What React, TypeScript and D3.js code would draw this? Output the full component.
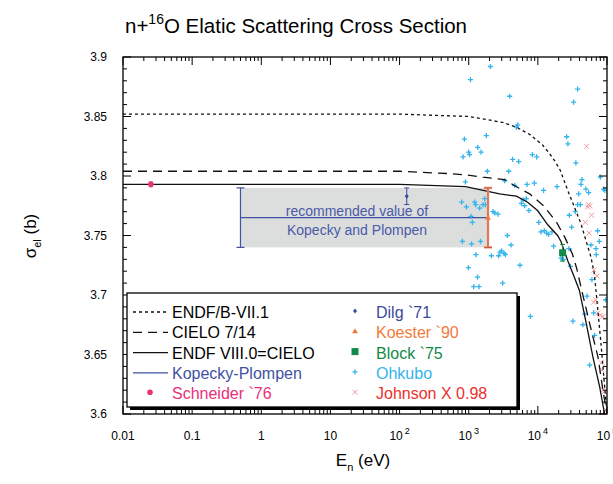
import React from "react";
import * as d3 from "d3";

const WIDTH = 613;
const HEIGHT = 484;
const margin = { top: 57, right: 6, bottom: 70, left: 123 };

// evaluations: [E (eV), sigma (b)]
const endf71 = [
  [0.01, 3.852], [100, 3.852], [1000, 3.850], [1600, 3.848], [3100, 3.845], [4900, 3.841],
  [7600, 3.835], [11700, 3.826], [14700, 3.819], [17900, 3.812], [21000, 3.805], [27000, 3.788],
  [33700, 3.774], [42000, 3.760], [49500, 3.746], [58500, 3.732], [65500, 3.718], [69200, 3.704],
  [81000, 3.662], [100000, 3.600],
];
const cielo714 = [
  [0.01, 3.804], [100, 3.804], [530, 3.802], [900, 3.801], [1600, 3.799], [3300, 3.797],
  [4900, 3.791], [7600, 3.785], [12100, 3.775], [18700, 3.761], [24800, 3.748], [31800, 3.734],
  [36600, 3.722], [41500, 3.708], [56100, 3.676], [74000, 3.648], [87300, 3.620], [100000, 3.600],
];
const endf80 = [
  [0.01, 3.793], [100, 3.793], [900, 3.791], [2800, 3.785], [4900, 3.783], [7100, 3.778],
  [9900, 3.771], [13900, 3.759], [19300, 3.750], [21600, 3.745], [27000, 3.729], [33700, 3.715],
  [39800, 3.704], [50200, 3.676], [62500, 3.648], [78200, 3.623], [92300, 3.600], [100000, 3.590],
];

// Kopecky-Plompen recommended value
const kopeckyRange = [0.5, 1900];
const kopeckyValue = 3.765;
const kopeckyErr = 0.025;

// single measurements: [E, sigma, err]
const schneider = [[0.0253, 3.793, 0.002]];
const dilg = [[127, 3.783, 0.007]];
const koester = [[1900, 3.765, 0.025]];
const block = [[22800, 3.7355, 0.007]];

const ohkubo = [
  [2060, 3.892], [1060, 3.881], [3910, 3.867], [4890, 3.841], [5110, 3.843], [867, 3.831],
  [1800, 3.834], [1350, 3.824], [1000, 3.820], [1510, 3.820], [1030, 3.818], [828, 3.816],
  [4320, 3.814], [5280, 3.812], [1860, 3.804], [3790, 3.804], [37600, 3.873], [32900, 3.862],
  [26100, 3.833], [27200, 3.827], [8330, 3.818], [9610, 3.816], [35500, 3.811], [896, 3.795],
  [3310, 3.796], [4620, 3.792], [6960, 3.793], [8900, 3.794], [12100, 3.788], [18900, 3.791],
  [43400, 3.797], [42000, 3.793], [49500, 3.789], [54200, 3.786], [38900, 3.785], [80000, 3.799],
  [89300, 3.789], [93300, 3.788], [792, 3.778], [927, 3.774], [1220, 3.778], [1260, 3.776],
  [1440, 3.773], [1610, 3.776], [1740, 3.776], [1700, 3.781], [1080, 3.766], [1130, 3.761],
  [2240, 3.770], [2380, 3.769], [2650, 3.768], [5780, 3.777], [6100, 3.780], [6820, 3.781],
  [6440, 3.775], [7430, 3.771], [37600, 3.776], [41100, 3.776], [34800, 3.770], [28500, 3.767],
  [30800, 3.757], [73100, 3.754], [77400, 3.745], [58500, 3.742], [69200, 3.739], [10300, 3.761],
  [11100, 3.753], [12400, 3.754], [13400, 3.752], [14300, 3.751], [16000, 3.753], [811, 3.745],
  [1100, 3.743], [1480, 3.745], [3620, 3.750], [4090, 3.742], [3000, 3.737], [2830, 3.736],
  [3240, 3.735], [2710, 3.733], [3390, 3.734], [1270, 3.734], [2130, 3.733], [16900, 3.741],
  [28100, 3.739], [21600, 3.731], [23300, 3.730], [29500, 3.724], [5510, 3.725], [990, 3.723],
  [1340, 3.715], [3100, 3.710], [1180, 3.707], [1410, 3.707], [60500, 3.713], [7800, 3.682],
  [32100, 3.678], [44900, 3.675], [47500, 3.684], [51300, 3.699], [64000, 3.685], [66200, 3.666],
  [56100, 3.641], [95500, 3.696], [70000, 3.734],
];

const johnson = [
  [50700, 3.825], [53700, 3.776], [56600, 3.775], [52500, 3.774], [59900, 3.767], [48600, 3.761],
  [55100, 3.752], [64700, 3.721], [71400, 3.716], [64000, 3.694], [68400, 3.696], [74000, 3.685],
  [80000, 3.683], [87300, 3.682], [82800, 3.643], [84400, 3.637], [87300, 3.620], [92300, 3.619],
  [97000, 3.603],
];

const xDecades = [-2, -1, 0, 1, 2, 3, 4, 5];
const yLabels = [3.6, 3.65, 3.7, 3.75, 3.8, 3.85, 3.9];

const FONT = "'Liberation Sans', Arial, Helvetica, sans-serif";
const C = {
  kopecky: "#3f51a3",
  schneider: "#e8317a",
  dilg: "#3a4a9a",
  koester: "#f27a3c",
  block: "#138a48",
  ohkubo: "#34b4ec",
  johnson: "#f29a9a",
  johnsonText: "#ec2f2f",
};

const plusPath = "M-2.6,0H2.6M0,-2.6V2.6";
const crossPath = "M-2.5,-2.5L2.5,2.5M-2.5,2.5L2.5,-2.5";

function Marker({ kind, x, y }) {
  if (kind === "dot") return <circle cx={x} cy={y} r={2.8} fill={C.schneider} />;
  if (kind === "diamond")
    return <path d={`M${x},${y - 2.5}L${x + 2},${y}L${x},${y + 2.5}L${x - 2},${y}Z`} fill={C.dilg} />;
  if (kind === "tri")
    return <path d={`M${x},${y - 3}L${x + 3},${y + 2}L${x - 3},${y + 2}Z`} fill={C.koester} />;
  if (kind === "square") return <rect x={x - 3.5} y={y - 3.5} width={7} height={7} fill={C.block} />;
  if (kind === "plus")
    return <path d={plusPath} transform={`translate(${x},${y})`} stroke={C.ohkubo} strokeWidth={1.3} />;
  return <path d={crossPath} transform={`translate(${x},${y})`} stroke={C.johnson} strokeWidth={1} />;
}

export default function App() {
  const x = d3.scaleLog().domain([0.01, 1e5]).range([margin.left, WIDTH - margin.right]);
  const y = d3.scaleLinear().domain([3.6, 3.9]).range([HEIGHT - margin.bottom, margin.top]);
  const x0 = margin.left, x1 = WIDTH - margin.right;
  const y0 = HEIGHT - margin.bottom, y1 = margin.top;

  const line = d3.line().x((d) => x(d[0])).y((d) => y(d[1]));

  const xMinor = [];
  xDecades.slice(0, -1).forEach((k) => {
    for (let m = 2; m <= 9; m++) xMinor.push(m * Math.pow(10, k));
  });
  const yMinor = d3.range(0, 31).map((i) => 3.6 + i * 0.01);

  const errBar = (E, v, e, color, cap = 3, w = 1) => (
    <g stroke={color} strokeWidth={w}>
      <line x1={x(E)} x2={x(E)} y1={y(v - e)} y2={y(v + e)} />
      <line x1={x(E) - cap} x2={x(E) + cap} y1={y(v - e)} y2={y(v - e)} />
      <line x1={x(E) - cap} x2={x(E) + cap} y1={y(v + e)} y2={y(v + e)} />
    </g>
  );

  const legendLeft = [
    { label: "ENDF/B-VII.1", color: "#000", dash: "3,3" },
    { label: "CIELO 7/14", color: "#000", dash: "9,6" },
    { label: "ENDF VIII.0=CIELO", color: "#000", dash: null },
    { label: "Kopecky-Plompen", color: C.kopecky, dash: null, stroke: C.kopecky },
    { label: "Schneider `76", color: C.schneider, marker: "dot" },
  ];
  const legendRight = [
    { label: "Dilg `71", color: C.dilg, marker: "diamond" },
    { label: "Koester `90", color: C.koester, marker: "tri" },
    { label: "Block `75", color: C.block, marker: "square" },
    { label: "Ohkubo", color: C.ohkubo, marker: "plus" },
    { label: "Johnson X 0.98", color: C.johnsonText, marker: "cross" },
  ];
  const legRowY = (i) => 312 + i * 20.3;

  return (
    <svg
      width={WIDTH}
      height={HEIGHT}
      style={{ position: "absolute", left: 0, top: 0, background: "#fff" }}
      fontFamily={FONT}
    >
      <defs>
        <clipPath id="plot">
          <rect x={x0} y={y1} width={x1 - x0} height={y0 - y1} />
        </clipPath>
      </defs>

      <text x={296} y={33} fontSize={20.5} textAnchor="middle">
        n+<tspan dy={-9} fontSize={14}>16</tspan>
        <tspan dy={9}>O Elatic Scattering Cross Section</tspan>
      </text>

      {/* Kopecky-Plompen band */}
      <rect
        x={x(kopeckyRange[0])}
        y={y(kopeckyValue + kopeckyErr)}
        width={x(kopeckyRange[1]) - x(kopeckyRange[0])}
        height={y(kopeckyValue - kopeckyErr) - y(kopeckyValue + kopeckyErr)}
        fill="#dcdedd"
      />
      <line
        x1={x(kopeckyRange[0])}
        x2={x(kopeckyRange[1])}
        y1={y(kopeckyValue)}
        y2={y(kopeckyValue)}
        stroke={C.kopecky}
        strokeWidth={1.2}
      />
      {errBar(kopeckyRange[0], kopeckyValue, kopeckyErr, C.kopecky, 4, 1.2)}
      <text x={357} y={216} fontSize={14} fill="#4a5aa8" textAnchor="middle">recommended value of</text>
      <text x={357} y={235} fontSize={14} fill="#4a5aa8" textAnchor="middle">Kopecky and Plompen</text>

      <g clipPath="url(#plot)">
        {ohkubo.map((d, i) => (
          <Marker key={"o" + i} kind="plus" x={x(d[0])} y={y(d[1])} />
        ))}
        {johnson.map((d, i) => (
          <Marker key={"j" + i} kind="cross" x={x(d[0])} y={y(d[1])} />
        ))}
        <path d={line(endf71)} fill="none" stroke="#111" strokeWidth={1.3} strokeDasharray="3,3" />
        <path d={line(cielo714)} fill="none" stroke="#111" strokeWidth={1.3} strokeDasharray="9,6" />
        <path d={line(endf80)} fill="none" stroke="#111" strokeWidth={1.3} />
      </g>

      {koester.map((d, i) => (
        <g key={"k" + i}>
          {errBar(d[0], d[1], d[2], "#f4a582", 4, 2.5)}
          {errBar(d[0], d[1], d[2], "#c0503c", 4, 1)}
          <Marker kind="tri" x={x(d[0])} y={y(d[1])} />
        </g>
      ))}
      {schneider.map((d, i) => (
        <g key={"s" + i}>
          {errBar(d[0], d[1], d[2], C.schneider, 2)}
          <Marker kind="dot" x={x(d[0])} y={y(d[1])} />
        </g>
      ))}
      {dilg.map((d, i) => (
        <g key={"d" + i}>
          {errBar(d[0], d[1], d[2], C.dilg, 2.5)}
          <Marker kind="diamond" x={x(d[0])} y={y(d[1])} />
        </g>
      ))}
      {block.map((d, i) => (
        <g key={"b" + i}>
          {errBar(d[0], d[1], d[2], C.block, 2.5)}
          <Marker kind="square" x={x(d[0])} y={y(d[1])} />
        </g>
      ))}

      {/* ticks */}
      <g stroke="#000" strokeWidth={1}>
        {xDecades.map((k) => {
          const px = x(Math.pow(10, k));
          return (
            <g key={"xd" + k}>
              <line x1={px} x2={px} y1={y0} y2={y0 - 8} />
              <line x1={px} x2={px} y1={y1} y2={y1 + 8} />
            </g>
          );
        })}
        {xMinor.map((v, i) => (
          <g key={"xm" + i}>
            <line x1={x(v)} x2={x(v)} y1={y0} y2={y0 - 4} />
            <line x1={x(v)} x2={x(v)} y1={y1} y2={y1 + 4} />
          </g>
        ))}
        {yMinor.map((v, i) => {
          const len = i % 5 === 0 ? 8 : 4;
          return (
            <g key={"ym" + i}>
              <line x1={x0} x2={x0 + len} y1={y(v)} y2={y(v)} />
              <line x1={x1} x2={x1 - len} y1={y(v)} y2={y(v)} />
            </g>
          );
        })}
      </g>
      <rect x={x0} y={y1} width={x1 - x0} height={y0 - y1} fill="none" stroke="#000" strokeWidth={1.3} />

      {/* tick labels */}
      <g fontSize={12}>
        {yLabels.map((v) => (
          <text key={"yl" + v} x={x0 - 16} y={y(v) + 4} textAnchor="end">
            {String(v)}
          </text>
        ))}
        {xDecades.map((k) => (
          <text key={"xl" + k} x={x(Math.pow(10, k))} y={440} textAnchor="middle">
            {k <= 1 ? String(Math.pow(10, k) >= 1 ? Math.pow(10, k) : Math.pow(10, k).toFixed(-k)) : "10"}
            {k > 1 && (
              <tspan dy={-6} fontSize={9} dx={2}>
                {k}
              </tspan>
            )}
          </text>
        ))}
      </g>

      {/* axis titles */}
      <text x={363} y={466} fontSize={17} textAnchor="middle">
        E<tspan dy={5} fontSize={11}>n</tspan>
        <tspan dy={-5}> (eV)</tspan>
      </text>
      <text transform="translate(36,236) rotate(-90)" fontSize={17} textAnchor="middle">
        σ<tspan dy={5} fontSize={11}>el</tspan>
        <tspan dy={-5}> (b)</tspan>
      </text>

      {/* legend */}
      <rect x={130} y={296} width={390} height={114} fill="#000" />
      <rect x={127} y={293} width={390} height={114} fill="#fff" stroke="#000" strokeWidth={1.3} />
      {legendLeft.map((d, i) => (
        <g key={"ll" + i}>
          {d.marker ? (
            <Marker kind={d.marker} x={150} y={legRowY(i) - 1} />
          ) : (
            <line
              x1={133}
              x2={168}
              y1={legRowY(i)}
              y2={legRowY(i)}
              stroke={d.stroke || "#111"}
              strokeWidth={1.3}
              strokeDasharray={d.dash || undefined}
            />
          )}
          <text x={172} y={legRowY(i) + 6} fontSize={16} fill={d.color}>
            {d.label}
          </text>
        </g>
      ))}
      {legendRight.map((d, i) => (
        <g key={"lr" + i}>
          <Marker kind={d.marker} x={355} y={legRowY(i) - 1} />
          <text x={376} y={legRowY(i) + 6} fontSize={16} fill={d.color}>
            {d.label}
          </text>
        </g>
      ))}
    </svg>
  );
}
